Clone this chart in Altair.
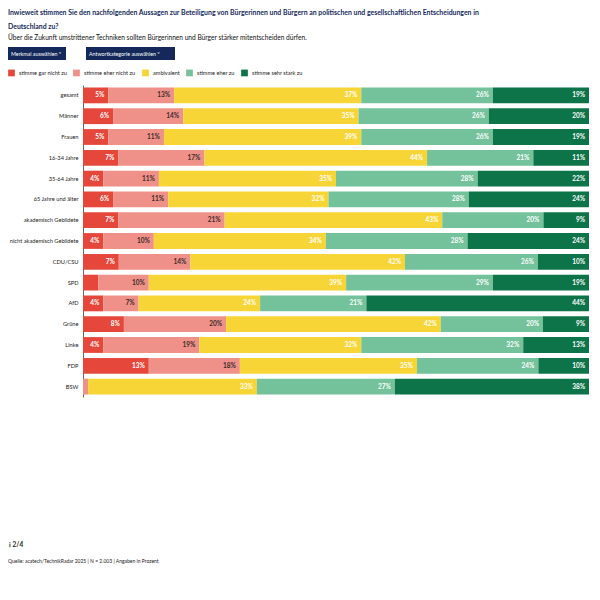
import altair as alt
import pandas as pd

categories = ["gesamt", "Männer", "Frauen", "16-34 Jahre", "35-64 Jahre",
              "65 Jahre und älter", "akademisch Gebildete", "nicht akademisch Gebildete",
              "CDU/CSU", "SPD", "AfD", "Grüne", "Linke", "FDP", "BSW"]
responses = ["stimme gar nicht zu", "stimme eher nicht zu", "ambivalent",
             "stimme eher zu", "stimme sehr stark zu"]
gar_nicht = [5, 6, 5, 7, 4, 6, 7, 4, 7, 3, 4, 8, 4, 13, 0]
eher_nicht = [13, 14, 11, 17, 11, 11, 21, 10, 14, 10, 7, 20, 19, 18, 1]
ambivalent = [37, 35, 39, 44, 35, 32, 43, 34, 42, 39, 24, 42, 32, 35, 33]
eher_zu = [26, 26, 26, 21, 28, 28, 20, 28, 26, 29, 21, 20, 32, 24, 27]
sehr_stark = [19, 20, 19, 11, 22, 24, 9, 24, 10, 19, 44, 9, 13, 10, 38]

colors = ["#e6473b", "#ef9189", "#f8d536", "#74c29c", "#0d7449"]
label_colors = ["#ffffff", "#3a2a2a", "#ffffff", "#ffffff", "#ffffff"]

title1 = "Inwieweit stimmen Sie den nachfolgenden Aussagen zur Beteiligung von Bürgerinnen und Bürgern an politischen und gesellschaftlichen Entscheidungen in"
title2 = "Deutschland zu?"
subtitle = "Über die Zukunft umstrittener Techniken sollten Bürgerinnen und Bürger stärker mitentscheiden dürfen."
button1 = "Merkmal auswählen ˅"
button2 = "Antwortkategorie auswählen ˅"
page_info = "ℹ  2/4"
source = "Quelle: acatech/TechnikRadar 2025 | N = 2.003 | Angaben in Prozent"

FONT = "Lato"
NAVY = "#14295a"

series = [gar_nicht, eher_nicht, ambivalent, eher_zu, sehr_stark]
rows = []
for i, cat in enumerate(categories):
    vals = [s[i] for s in series]
    total = sum(vals)
    cum = 0
    for j, v in enumerate(vals):
        start = cum / total * 100
        cum += v
        end = cum / total * 100
        rows.append({"category": cat, "response": responses[j], "order": j,
                     "value": v, "start": start, "end": end,
                     "label": f"{v}%", "tcolor": label_colors[j]})
df = pd.DataFrame(rows)

y_enc = alt.Y("category:N", sort=categories,
              scale=alt.Scale(paddingInner=0.24, paddingOuter=0.12),
              axis=alt.Axis(title=None, ticks=False, labelFontSize=5.7, labelFont=FONT,
                            labelColor="#222222", labelPadding=5,
                            domainColor="#666666", domainWidth=1))
x_scale = alt.Scale(domain=[0, 100], nice=False)

bars = alt.Chart(df).mark_bar().encode(
    y=y_enc,
    x=alt.X("start:Q", scale=x_scale, axis=None),
    x2="end:Q",
    color=alt.Color("response:N", scale=alt.Scale(domain=responses, range=colors),
                    legend=alt.Legend(orient="none", legendX=-75, legendY=-16,
                                      direction="horizontal", title=None,
                                      symbolType="square", symbolSize=45,
                                      symbolStrokeWidth=0, labelFontSize=5.6,
                                      labelFont=FONT, labelColor="#222222",
                                      labelOffset=4, columnPadding=6)),
    order=alt.Order("order:Q"),
)

labels = alt.Chart(df).transform_filter("datum.value >= 4").mark_text(
    align="right", baseline="middle", dx=-4, fontSize=6.5, fontWeight="bold", font=FONT
).encode(
    y=alt.Y("category:N", sort=categories),
    x=alt.X("end:Q", scale=x_scale),
    text="label:N",
    color=alt.Color("tcolor:N", scale=None),
)

def txt(s, x, y, size, color, weight="normal"):
    return alt.Chart(pd.DataFrame({"t": [s]})).mark_text(
        align="left", baseline="middle", fontSize=size, font=FONT,
        fontWeight=weight, color=color
    ).encode(x=alt.value(x), y=alt.value(y), text="t:N")

def box(x1, x2, y1, y2):
    return alt.Chart(pd.DataFrame({"a": [0]})).mark_rect(color=NAVY).encode(
        x=alt.value(x1), x2=alt.value(x2), y=alt.value(y1), y2=alt.value(y2))

deco = [
    txt(title1, -75, -72, 6.9, NAVY, "bold"),
    txt(title2, -75, -58, 6.9, NAVY, "bold"),
    txt(subtitle, -75, -47, 6.6, "#111111"),
    box(-75, -17, -38, -25),
    box(3, 92, -38, -25),
    txt(button1, -72, -31.5, 5.3, "#ffffff"),
    txt(button2, 6, -31.5, 5.3, "#ffffff"),
    txt(page_info, -74, 460, 6.5, "#222222", "bold"),
    txt(source, -75, 476, 5, "#222222"),
]

chart = alt.layer(bars, labels, *deco).properties(
    width=506, height=312,
    autosize=alt.AutoSizeParams(type="none"),
    padding={"left": 75, "top": 77, "right": 3, "bottom": 190},
).configure_view(stroke=None)

chart.save("out.html", embed_options={"renderer": "svg", "actions": False})
